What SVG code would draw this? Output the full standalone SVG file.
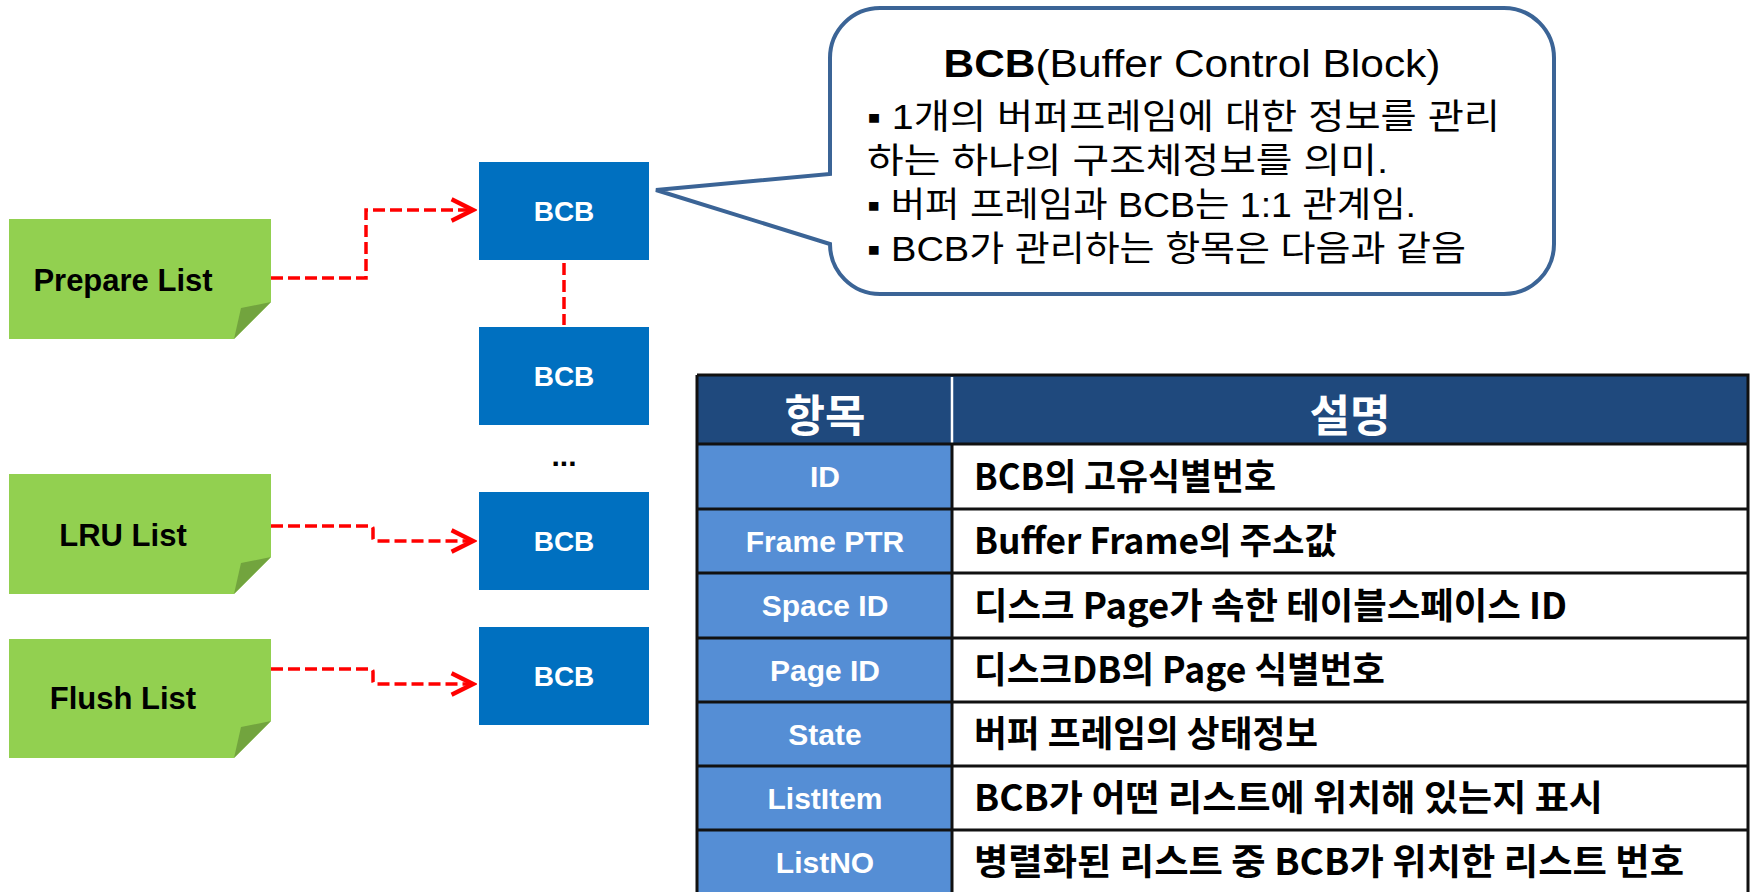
<svg xmlns="http://www.w3.org/2000/svg" width="1755" height="892" viewBox="0 0 1755 892">
<style>
.note{fill:#92D050}
.fold{fill:#72A43E}
.notetxt{font-family:"Liberation Sans",Arial,sans-serif;font-weight:bold;font-size:31px;fill:#000;text-anchor:middle}
.bcb{fill:#0070C0}
.bcbtxt{font-family:"Liberation Sans",Arial,sans-serif;font-weight:bold;font-size:28px;fill:#fff;text-anchor:middle}
.conn{fill:none;stroke:#FF0000;stroke-width:3.5;stroke-dasharray:12 5}
.callout{fill:#fff;stroke:#3B6496;stroke-width:4}
.ctxt{font-family:"Liberation Sans","Noto Sans CJK KR",sans-serif;font-size:35px;fill:#000}
.hdr{fill:#1F497D}
.lcol{fill:#558ED5}
.hdrtxt{font-family:"Noto Sans CJK KR",sans-serif;font-weight:bold;font-size:44px;fill:#fff;text-anchor:middle}
.ltxt{font-family:"Liberation Sans",Arial,sans-serif;font-weight:bold;font-size:30px;fill:#fff;text-anchor:middle}
.rtxt{font-family:"Noto Sans CJK KR",sans-serif;font-weight:bold;font-size:36px;fill:#000}
.grid{stroke:#111;stroke-width:3;fill:none}
</style>
<defs>
<marker id="arr" markerUnits="userSpaceOnUse" markerWidth="30" markerHeight="30" viewBox="-24 -14 28 28" refX="0" refY="0" orient="auto">
<path d="M -20,-10 L 0,0 L -20,10" fill="none" stroke="#FF0000" stroke-width="4"/>
</marker>
</defs>

<g id="prepare-list">
<path class="note" d="M 9,219 H 271 V 302 L 234,339 H 9 Z"/>
<path class="fold" d="M 271,302 L 241,308 L 234,339 Z"/>
<text class="notetxt" x="123" y="291">Prepare List</text>
</g>
<g id="lru-list">
<path class="note" d="M 9,474 H 271 V 557 L 234,594 H 9 Z"/>
<path class="fold" d="M 271,557 L 241,563 L 234,594 Z"/>
<text class="notetxt" x="123" y="546">LRU List</text>
</g>
<g id="flush-list">
<path class="note" d="M 9,639 H 271 V 721 L 234,758 H 9 Z"/>
<path class="fold" d="M 271,721 L 241,727 L 234,758 Z"/>
<text class="notetxt" x="123" y="709">Flush List</text>
</g>

<g id="bcb1"><rect class="bcb" x="479" y="162" width="170" height="98"/><text class="bcbtxt" x="564" y="221">BCB</text></g>
<g id="bcb2"><rect class="bcb" x="479" y="327" width="170" height="98"/><text class="bcbtxt" x="564" y="386">BCB</text></g>
<g id="dots"><text x="564" y="466" style="font-family:'Liberation Sans',Arial,sans-serif;font-weight:bold;font-size:30px;text-anchor:middle">...</text></g>
<g id="bcb3"><rect class="bcb" x="479" y="492" width="170" height="98"/><text class="bcbtxt" x="564" y="551">BCB</text></g>
<g id="bcb4"><rect class="bcb" x="479" y="627" width="170" height="98"/><text class="bcbtxt" x="564" y="686">BCB</text></g>

<g id="connectors">
<path class="conn" d="M 271,278 H 366 V 210 H 473" marker-end="url(#arr)"/>
<path class="conn" d="M 564,263 V 325"/>
<path class="conn" d="M 271,526 H 370 Q 373,526 373,529 V 538 Q 373,541 376,541 H 473" marker-end="url(#arr)"/>
<path class="conn" d="M 271,669 H 370 Q 373,669 373,672 V 681 Q 373,684 376,684 H 473" marker-end="url(#arr)"/>
</g>

<g id="callout">
<path class="callout" d="M 880,8 H 1504 A 50 50 0 0 1 1554,58 V 244 A 50 50 0 0 1 1504,294 H 880 A 50 50 0 0 1 830,244 L 656,190 L 830,174 V 58 A 50 50 0 0 1 880,8 Z"/>
<text class="ctxt" x="1192" y="77" text-anchor="middle" style="font-size:39px" textLength="497" lengthAdjust="spacingAndGlyphs"><tspan font-weight="bold">BCB</tspan>(Buffer Control Block)</text>
<text class="ctxt" x="867" y="129" textLength="633" lengthAdjust="spacingAndGlyphs">▪ 1개의 버퍼프레임에 대한 정보를 관리</text>
<text class="ctxt" x="867" y="173" textLength="521" lengthAdjust="spacingAndGlyphs">하는 하나의 구조체정보를 의미.</text>
<text class="ctxt" x="867" y="217" textLength="549" lengthAdjust="spacingAndGlyphs">▪ 버퍼 프레임과 BCB는 1:1 관계임.</text>
<text class="ctxt" x="867" y="261" textLength="599" lengthAdjust="spacingAndGlyphs">▪ BCB가 관리하는 항목은 다음과 같음</text>
</g>

<g id="table">
<rect class="hdr" x="697" y="375" width="1051" height="69"/>
<rect class="lcol" x="697" y="444" width="255" height="450"/>
<rect x="952" y="444" width="796" height="450" fill="#fff"/>
<line x1="952" y1="377" x2="952" y2="444" stroke="#fff" stroke-width="2.5"/>
<path class="grid" d="M 697,375 H 1748 V 894 M 697,375 V 894 M 952,444 V 894 M 697,444 H 1748 M 697,509 H 1748 M 697,573 H 1748 M 697,638 H 1748 M 697,702 H 1748 M 697,766 H 1748 M 697,830 H 1748"/>
<text class="hdrtxt" x="825" y="432">항목</text>
<text class="hdrtxt" x="1350" y="432">설명</text>

<text class="ltxt" x="825" y="487">ID</text>
<text class="ltxt" x="825" y="552">Frame PTR</text>
<text class="ltxt" x="825" y="616">Space ID</text>
<text class="ltxt" x="825" y="681">Page ID</text>
<text class="ltxt" x="825" y="745">State</text>
<text class="ltxt" x="825" y="809">ListItem</text>
<text class="ltxt" x="825" y="873">ListNO</text>

<text class="rtxt" x="974" y="490" textLength="302" lengthAdjust="spacingAndGlyphs">BCB의  고유식별번호</text>
<text class="rtxt" x="974" y="554" textLength="363" lengthAdjust="spacingAndGlyphs">Buffer  Frame의  주소값</text>
<text class="rtxt" x="974" y="619" textLength="593" lengthAdjust="spacingAndGlyphs">디스크  Page가  속한  테이블스페이스  ID</text>
<text class="rtxt" x="974" y="683" textLength="411" lengthAdjust="spacingAndGlyphs">디스크DB의  Page  식별번호</text>
<text class="rtxt" x="974" y="747" textLength="344" lengthAdjust="spacingAndGlyphs">버퍼  프레임의  상태정보</text>
<text class="rtxt" x="974" y="811" textLength="629" lengthAdjust="spacingAndGlyphs">BCB가  어떤  리스트에  위치해  있는지  표시</text>
<text class="rtxt" x="974" y="875" textLength="710" lengthAdjust="spacingAndGlyphs">병렬화된  리스트  중  BCB가  위치한  리스트  번호</text>
</g>
</svg>
